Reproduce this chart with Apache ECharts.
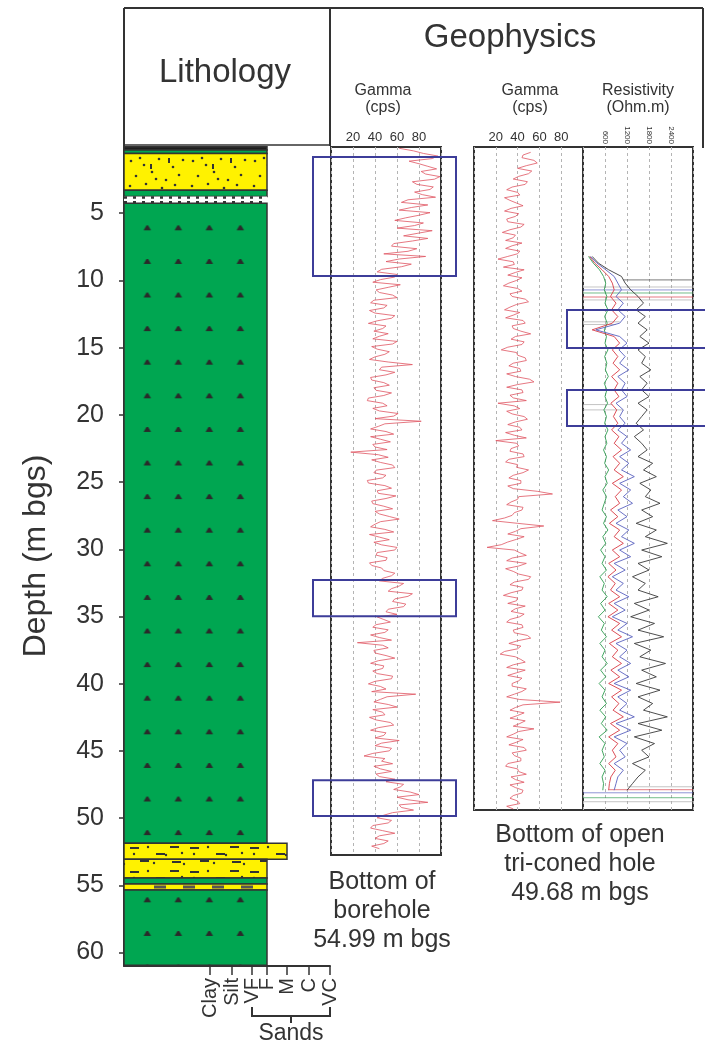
<!DOCTYPE html>
<html>
<head>
<meta charset="utf-8">
<title>Lithology and geophysics</title>
<script src="https://cdn.jsdelivr.net/npm/echarts@6/dist/echarts.min.js"></script>
<style>
html,body{margin:0;padding:0;background:#fff;}
#main{width:705px;height:1048px;}
</style>
</head>
<body>
<div id="main"></div>
<script>
var FONT='"Liberation Sans", Arial, sans-serif';
var TXT='#333';

// depth axis (m bgs)
var depthTicks=[5,10,15,20,25,30,35,40,45,50,55,60];
// grain size axis
var grainNames=['Clay','Silt','VF','F','M','C','VC'];
var grainTicks=[0,1.1,2.1,2.85,3.85,4.95,6];
var GRAIN_MIN=-4.3;

// lithology layers (m bgs)
var layerTop=   [0.05,0.3, 0.55,3.3, 3.75,4.25, 51.86,53.05,54.46,54.9, 55.35];
var layerBottom=[0.3, 0.55,3.3, 3.75,4.25,51.86,53.05,54.46,54.9, 55.35,60.95];
var layerGrain= [2.85,2.85,2.85,2.85,2.85,2.85, 3.85, 2.85, 2.85, 2.85, 2.85];
var layerType=  ['dark','clayPlain','sand','clayPlain','contact','clay','silty','silty','clayPlain','band','clay'];

// gamma log, borehole (cps), sampled every 0.2 m from 0.1 m
var gamma1Start=0.1, gamma1Step=0.2;
var gamma1=[62,75,84,97,92,71,80,88,96,82,86,99,94,74,78,93,90,76,83,95,
 70,64,88,73,62,90,80,68,58,84,76,60,92,79,66,88,74,57,55,78,
 70,48,86,62,50,73,64,46,42,60,58,45,38,63,52,41,44,56,60,39,
 36,51,48,35,40,58,55,42,34,50,47,39,52,44,38,60,56,37,42,53,
 49,40,35,52,74,46,44,58,50,36,37,48,53,39,41,55,48,34,33,47,
 51,38,44,61,57,40,82,49,43,36,50,57,36,45,54,38,40,51,18,43,
 52,37,45,56,58,41,39,50,47,33,34,49,55,42,43,59,50,37,38,48,
 56,40,44,53,62,45,40,36,49,57,35,44,53,39,46,60,58,42,41,51,
 50,35,37,46,48,58,55,47,44,66,62,55,52,74,70,58,56,68,66,52,
 50,60,42,48,54,41,38,52,49,36,44,55,24,47,52,39,40,50,58,43,
 36,48,47,38,42,56,55,40,34,45,50,37,77,51,45,39,52,60,38,47,
 49,35,41,54,57,43,36,50,48,40,62,46,40,55,53,38,30,49,46,56,
 39,45,55,41,44,58,50,66,63,57,72,80,60,70,88,62,64,75,56,48,
 42,55,52,38,36,47,58,44,40,52,48,37,
 44];

// gamma log, open tri-coned hole (cps), every 0.2 m from 0.4 m
var gamma2Start=0.4, gamma2Step=0.2;
var gamma2=[52,45,44,55,58,48,40,53,50,41,36,49,47,35,30,40,42,28,33,39,
 45,34,28,41,38,30,31,46,43,33,26,38,36,29,44,35,29,42,40,31,
 22,36,37,27,46,38,31,44,39,32,27,40,44,33,35,47,50,39,33,28,
 42,36,29,45,47,35,36,43,52,38,34,46,44,31,25,39,40,47,48,36,
 32,42,43,30,38,51,55,40,30,44,45,33,36,48,22,37,42,30,35,46,
 49,38,31,42,44,29,37,48,20,39,41,34,33,45,46,32,29,40,39,50,
 45,36,32,43,43,31,36,58,72,41,40,34,30,45,44,37,35,28,17,40,
 64,43,38,31,46,39,31,25,12,37,42,48,35,30,48,41,29,36,41,52,
 50,37,33,45,44,34,27,40,39,31,47,38,34,46,42,33,30,44,45,36,
 37,49,52,40,32,43,40,28,24,38,43,47,36,30,47,39,31,44,41,35,
 35,48,44,37,30,42,79,45,38,33,46,40,33,47,42,36,55,41,36,30,
 45,39,32,46,48,35,37,43,43,31,29,40,41,48,34,38,46,33,38,45,
 44,36,33,40,42,30,
 36];

// resistivity (Ohm.m), every 0.5 m from 8.2 m
var resStart=8.2, resStep=0.5;
var resBlack=[250,420,700,1050,1150,1300,1500,1650,1450,1700,
 1500,1750,1550,1800,1500,1700,1600,1850,1550,1750,
 1600,1800,1500,1750,1600,1450,1650,1400,1600,1750,
 1500,1900,1650,2000,1550,1850,1700,2100,1600,1900,
 1450,2000,1700,2300,1600,2150,1500,1800,1350,1700,
 1500,2050,1400,1800,1300,1950,1500,2200,1400,1850,
 1550,2250,1600,2000,1450,2100,1500,1900,1650,2300,
 1500,2150,1400,1950,1600,1800,1350,1700,1500,1350,
 1200];
var resBlue=[200,380,620,850,950,1050,900,1100,950,1150,
 1000,350,1000,1200,980,1150,1000,1250,950,1150,
 1050,1200,900,1100,1000,1150,950,1200,1050,1300,
 1000,1250,1050,1400,1000,1300,1100,1350,950,1200,
 900,1250,1050,1400,1000,1300,850,1150,800,1100,
 900,1250,850,1150,800,1200,950,1350,900,1200,
 1000,1300,950,1250,850,1300,950,1200,1000,1400,
 900,1300,850,1200,1000,1150,850,1100,950,900,
 850];
var resRed=[180,320,520,700,800,850,750,900,780,950,
 800,250,850,1000,800,950,820,1000,780,950,
 850,980,760,920,830,950,780,980,850,1050,
 820,1000,850,1100,800,1050,880,1000,750,950,
 720,1000,850,1100,800,1000,700,900,680,880,
 750,1000,700,950,680,1000,780,1050,720,950,
 800,1050,760,1000,700,1050,780,980,820,1100,
 750,1000,700,950,800,900,700,880,760,720,
 700];
var resGreen=[150,280,450,560,620,580,650,600,680,590,
 660,580,640,600,680,590,650,610,690,580,
 650,600,670,570,640,590,680,600,650,560,
 640,590,700,600,660,540,640,580,520,640,
 560,680,540,620,480,600,520,640,460,580,
 520,660,480,600,420,580,500,640,460,600,
 520,660,480,620,440,600,520,640,460,620,
 500,660,440,600,520,580,460,600,520,560,
 540];

// resistivity tool spikes (horizontal traces)
var spikeDepth=[9.96,10.49,10.71,10.94,11.24,11.46,13.1,13.3,19.3,19.7,47.94,48.16,48.39,48.76,49.06];
var spikeFrom= [1100,0,0,0,0,0,0,0,0,0,1200,700,0,0,0];
var spikeTo=   [3000,3000,3000,3000,3000,3000,1000,900,800,1100,3000,3000,3000,3000,3000];
var spikeCurve=['black','grey','blue','green','red','grey','grey','grey','grey','grey','grey','red','blue','green','grey'];

// highlighted intervals
var boxGammaTop=[0.78,33.64,49.18], boxGammaBottom=[10.02,36.44,51.97];
var boxResTop=[12.21,18.2], boxResBottom=[15.06,20.9];

var boreholeBottom=54.99, openHoleBottom=49.68;

var CURVE_COLOR={green:'#2f9d50',red:'#d83a44',blue:'#5a62c0',black:'#3a3a3a',grey:'#a8a8a8'};
var GREEN='#00a651', YELLOW='#fff200', BOX='#3d3d99', GAMMA='#df5662';

function makeTile(w,h,draw){
	var c=document.createElement('canvas');
	c.width=w;c.height=h;
	draw(c.getContext('2d'));
	return c;
}
var clayTile=makeTile(31,34,function(ctx){
	ctx.fillStyle=GREEN;ctx.fillRect(0,0,31,34);
	ctx.fillStyle='#2a2a2a';
	ctx.beginPath();ctx.moveTo(12,19);ctx.lineTo(15,14);ctx.lineTo(16.5,14);ctx.lineTo(19.5,19);ctx.closePath();ctx.fill();
});
var sandTile=makeTile(62,36,function(ctx){
	ctx.fillStyle=YELLOW;ctx.fillRect(0,0,62,36);
	ctx.fillStyle='#333';
	var d=[[5,6],[18,10],[33,4],[47,12],[57,5],[10,21],[26,17],[40,25],[53,20],[4,31],[20,29],[36,33],[49,30],[14,3],[30,24]];
	for(var i=0;i<d.length;i++){ctx.beginPath();ctx.arc(d[i][0],d[i][1],1.3,0,Math.PI*2);ctx.fill();}
	ctx.fillRect(42,3,2,5);ctx.fillRect(24,9,2,5);
});
var siltTile=makeTile(60,24,function(ctx){
	ctx.fillStyle=YELLOW;ctx.fillRect(0,0,60,24);
	ctx.fillStyle='#333';
	var s=[[4,4],[30,10],[14,17],[44,3],[46,18]];
	for(var i=0;i<s.length;i++) ctx.fillRect(s[i][0],s[i][1],9,2);
	var d=[[22,4],[40,12],[8,11],[56,10],[28,20],[58,21]];
	for(var j=0;j<d.length;j++){ctx.beginPath();ctx.arc(d[j][0],d[j][1],1.2,0,Math.PI*2);ctx.fill();}
});
var clayPattern={image:clayTile,repeat:'repeat',x:131.5,y:211.5,scaleY:33.6/34};
var sandPattern={image:sandTile,repeat:'repeat',x:126,y:155};
var siltPattern={image:siltTile,repeat:'repeat',x:126,y:843};

function renderLayer(params,api){
	var p0=api.coord([GRAIN_MIN,api.value(0)]);
	var p1=api.coord([api.value(2),api.value(1)]);
	var x=p0[0],y=p0[1],w=p1[0]-p0[0],h=p1[1]-p0[1];
	var type=layerType[params.dataIndex];
	var rect={type:'rect',shape:{x:x,y:y,width:w,height:h},style:{fill:GREEN,stroke:'#333',lineWidth:1.5}};
	if(type==='dark'){rect.style.fill='#1e1e1e';}
	else if(type==='clay'){rect.style.fill=clayPattern;}
	else if(type==='sand'){rect.style.fill=sandPattern;}
	else if(type==='silty'){rect.style.fill=siltPattern;}
	else if(type==='contact'){
		return {type:'group',children:[
			{type:'rect',shape:{x:x,y:y,width:w,height:h},style:{fill:'#fff'}},
			{type:'line',shape:{x1:x,y1:y+1,x2:x+w,y2:y+1},style:{stroke:'#333',lineWidth:2.5,lineDash:[3,6]}},
			{type:'line',shape:{x1:x,y1:y+h-1,x2:x+w,y2:y+h-1},style:{stroke:'#333',lineWidth:2.5,lineDash:[3,6]}}
		]};
	}
	else if(type==='band'){
		return {type:'group',children:[
			{type:'rect',shape:{x:x,y:y,width:w,height:h},style:{fill:YELLOW,stroke:'#333',lineWidth:1.5}},
			{type:'line',shape:{x1:x+30,y1:y+h/2,x2:x+w,y2:y+h/2},style:{stroke:'#555',lineWidth:3,lineDash:[12,17]}}
		]};
	}
	return rect;
}

function renderSpike(params,api){
	var a=api.coord([api.value(1),api.value(0)]);
	var b=api.coord([api.value(2),api.value(0)]);
	return {type:'line',shape:{x1:a[0],y1:a[1],x2:b[0],y2:b[1]},
		style:{stroke:CURVE_COLOR[spikeCurve[params.dataIndex]],lineWidth:0.8,opacity:0.85}};
}

function boxRender(left,right){
	return function(params,api){
		var y0=api.coord([0,api.value(0)])[1];
		var y1=api.coord([0,api.value(1)])[1];
		return {type:'rect',shape:{x:left,y:y0,width:right-left,height:y1-y0},
			style:{fill:'none',stroke:BOX,lineWidth:2}};
	};
}

function logData(vals,start,step){
	var out=[];
	for(var i=0;i<vals.length;i++) out.push([vals[i],start+i*step]);
	return out;
}

function trackX(idx,max,interval,labelSize,rotate){
	return {gridIndex:idx,type:'value',position:'top',min:0,max:max,interval:interval,
		axisLine:{show:false,onZero:false},axisTick:{show:false},
		axisLabel:{fontSize:labelSize,color:TXT,margin:3,rotate:rotate,fontFamily:FONT,
			formatter:function(v){return (v>0&&v<max)?String(v):'';}},
		splitLine:{show:true,lineStyle:{color:'#b4b4b4',type:[3,3],width:1}}};
}
function trackY(idx,max){
	return {gridIndex:idx,type:'value',min:0,max:max,inverse:true,show:false,
		axisLine:{onZero:false},splitLine:{show:false}};
}
function logLine(name,data,xi,color,width){
	return {name:name,type:'line',xAxisIndex:xi,yAxisIndex:xi,data:data,showSymbol:false,
		symbol:'none',silent:true,lineStyle:{color:color,width:width},emphasis:{disabled:true}};
}

var trackBorder={show:true,borderColor:'#333',borderWidth:2,backgroundColor:'transparent',outerBoundsMode:'none'};

var chart=echarts.init(document.getElementById('main'));
var option={
	animation:false,
	textStyle:{fontFamily:FONT},
	grid:[
		{left:124,top:146,width:206,height:820,show:false,outerBoundsMode:'none'},
		echarts.util.extend({left:331,top:147,width:110,height:708},trackBorder),
		echarts.util.extend({left:474,top:147,width:109,height:663},trackBorder),
		echarts.util.extend({left:583,top:147,width:110,height:663},trackBorder)
	],
	xAxis:[
		{gridIndex:0,type:'value',position:'bottom',min:GRAIN_MIN,max:6,
			axisLine:{show:true,onZero:false,lineStyle:{color:'#333',width:2}},
			axisTick:{show:true,customValues:grainTicks,length:9,lineStyle:{color:'#333',width:1.5}},
			axisLabel:{customValues:grainTicks,rotate:90,fontSize:20,color:TXT,margin:12,fontFamily:FONT,
				formatter:function(v){
					for(var i=0;i<grainTicks.length;i++){if(Math.abs(grainTicks[i]-v)<1e-6) return grainNames[i];}
					return '';
				}},
			splitLine:{show:false}},
		trackX(1,100,20,13,0),
		trackX(2,100,20,13,0),
		trackX(3,3000,600,8,90)
	],
	yAxis:[
		{gridIndex:0,type:'value',min:0,max:61,inverse:true,
			name:'Depth (m bgs)',nameLocation:'middle',nameGap:72,nameRotate:90,
			nameTextStyle:{fontSize:32,color:TXT,fontFamily:FONT},
			axisLine:{show:true,onZero:false,lineStyle:{color:'#333',width:2}},
			axisTick:{show:true,length:5,customValues:depthTicks,lineStyle:{color:'#333',width:1.5}},
			axisLabel:{customValues:depthTicks,fontSize:25,color:TXT,margin:20,fontFamily:FONT},
			splitLine:{show:false}},
		trackY(1,boreholeBottom),
		trackY(2,openHoleBottom),
		trackY(3,openHoleBottom)
	],
	series:[
		{type:'custom',name:'Lithology',xAxisIndex:0,yAxisIndex:0,silent:true,emphasis:{disabled:true},
			renderItem:renderLayer,encode:{x:2,y:[0,1]},
			data:layerTop.map(function(t,i){return [t,layerBottom[i],layerGrain[i]];})},
		logLine('Gamma borehole',logData(gamma1,gamma1Start,gamma1Step),1,GAMMA,0.8),
		logLine('Gamma open hole',logData(gamma2,gamma2Start,gamma2Step),2,GAMMA,0.8),
		{type:'custom',name:'Spikes',xAxisIndex:3,yAxisIndex:3,silent:true,emphasis:{disabled:true},
			renderItem:renderSpike,encode:{y:0,x:[1,2]},
			data:spikeDepth.map(function(d,i){return [d,spikeFrom[i],spikeTo[i]];})},
		logLine('Res green',logData(resGreen,resStart,resStep),3,CURVE_COLOR.green,0.9),
		logLine('Res red',logData(resRed,resStart,resStep),3,CURVE_COLOR.red,0.9),
		logLine('Res blue',logData(resBlue,resStart,resStep),3,CURVE_COLOR.blue,0.9),
		logLine('Res black',logData(resBlack,resStart,resStep),3,CURVE_COLOR.black,0.9),
		{type:'custom',name:'Gamma intervals',xAxisIndex:1,yAxisIndex:1,silent:true,emphasis:{disabled:true},
			renderItem:boxRender(313,456),encode:{y:[0,1]},z:10,
			data:boxGammaTop.map(function(t,i){return [t,boxGammaBottom[i]];})},
		{type:'custom',name:'Resistivity intervals',xAxisIndex:3,yAxisIndex:3,silent:true,emphasis:{disabled:true},
			renderItem:boxRender(567,712),encode:{y:[0,1]},z:10,
			data:boxResTop.map(function(t,i){return [t,boxResBottom[i]];})}
	]
};
chart.setOption(option);

// frame, titles and notes
var xa=chart.convertToPixel({xAxisIndex:0},grainTicks[2]);
var xb=chart.convertToPixel({xAxisIndex:0},grainTicks[6]);
var xm=(xa+xb)/2;
function txt(s,x,y,size,lh){
	return {type:'text',x:x,y:y,silent:true,
		style:{text:s,fontSize:size,fontFamily:FONT,fill:TXT,align:'center',verticalAlign:'middle',lineHeight:lh||size}};
}
function seg(pts,w){
	return {type:'polyline',silent:true,shape:{points:pts},style:{stroke:'#333',lineWidth:w||2,fill:null}};
}
chart.setOption({graphic:[
	seg([[124,8],[703,8]]),
	seg([[124,8],[124,146]]),
	seg([[330,8],[330,146]]),
	seg([[703,8],[703,148]]),
	seg([[124,145],[330,145]],1.5),
	txt('Lithology',225,73,33),
	txt('Geophysics',510,38,33),
	txt('Gamma\n(cps)',383,99,16,17),
	txt('Gamma\n(cps)',530,99,16,17),
	txt('Resistivity\n(Ohm.m)',638,99,16,17),
	txt('Bottom of\nborehole\n'+boreholeBottom+' m bgs',382,911,25,29),
	txt('Bottom of open\ntri-coned hole\n'+openHoleBottom+' m bgs',580,864,25,29),
	seg([[xa,1007],[xa,1016],[xb,1016],[xb,1007]],2),
	seg([[xm,1016],[xm,1023]],2),
	txt('Sands',xm,1034,23)
]});
</script>
</body>
</html>
